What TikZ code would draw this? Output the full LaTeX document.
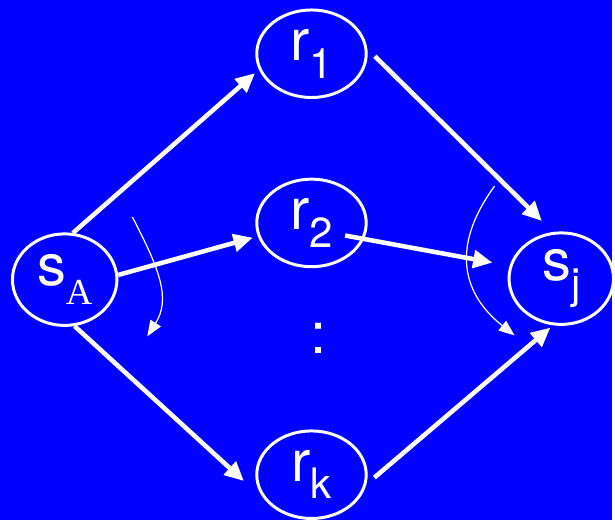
\documentclass[tikz,border=0pt]{standalone}
\usepackage{fontspec}
\setmainfont{TeX Gyre Heros}
\newfontfamily\subserif{Liberation Serif}
\usetikzlibrary{shapes.geometric,arrows.meta,calc}
\definecolor{slideblue}{HTML}{0000FF}
\newcommand{\lowsub}[1]{\raisebox{-10pt}{\fontsize{24}{26}\selectfont #1}}

\begin{document}
\begin{tikzpicture}[x=0.02cm, y=-0.02cm,
    station/.style={ellipse, draw=white, line width=1.7pt, text=white, inner sep=0pt,
        font=\fontsize{33}{38}\selectfont},
    relay/.style={station, minimum width=2.2cm, minimum height=1.76cm},
    endpt/.style={station, minimum width=2.1cm, minimum height=1.84cm},
    bigarrow/.style={white, line width=2.6pt, -{Triangle[length=11pt,width=10pt]}},
    thinarrow/.style={white, line width=0.7pt, -{Triangle[length=9pt,width=7pt]}}]

% Background
\fill[slideblue] (0,0) rectangle (615,523);

% Source and sink
\node[endpt] (sA) at (65,281) {s\raisebox{-11pt}{\subserif\fontsize{21}{23}\selectfont A}};
\node[endpt] (sj) at (564,280) {s\lowsub{j}};

% Relays
\node[relay] (r1) at (313,54) {r\lowsub{1}};
\node[relay] (r2) at (313,224) {r\lowsub{2}};
\node[relay] (rk) at (313,477) {r\lowsub{k}};
\node[text=white, font=\fontsize{33}{38}\selectfont] (dots) at (320,340) {:};

% Links from the source
\draw[bigarrow, shorten >=3pt] (sA.80) -- (r1.197);
\draw[bigarrow, shorten >=3pt] (sA.5) -- (r2.194);
\draw[bigarrow, shorten >=17pt] (sA.282) -- (rk.210);

% Links to the sink
\draw[bigarrow, shorten <=6pt, shorten >=9pt] (r1.5) -- (sj.100);
\draw[bigarrow, shorten <=-11pt, shorten >=10pt] (r2.-17) -- (sj.166);
\draw[bigarrow, shorten <=6pt, shorten >=2pt] (rk.-10) -- (sj.260);

% Sweep arrows
\draw[thinarrow] (133,218) .. controls (160,270) and (172,300) .. (148,338);
\draw[thinarrow] (497,187) .. controls (458,240) and (458,290) .. (517,337);

\end{tikzpicture}
\end{document}
